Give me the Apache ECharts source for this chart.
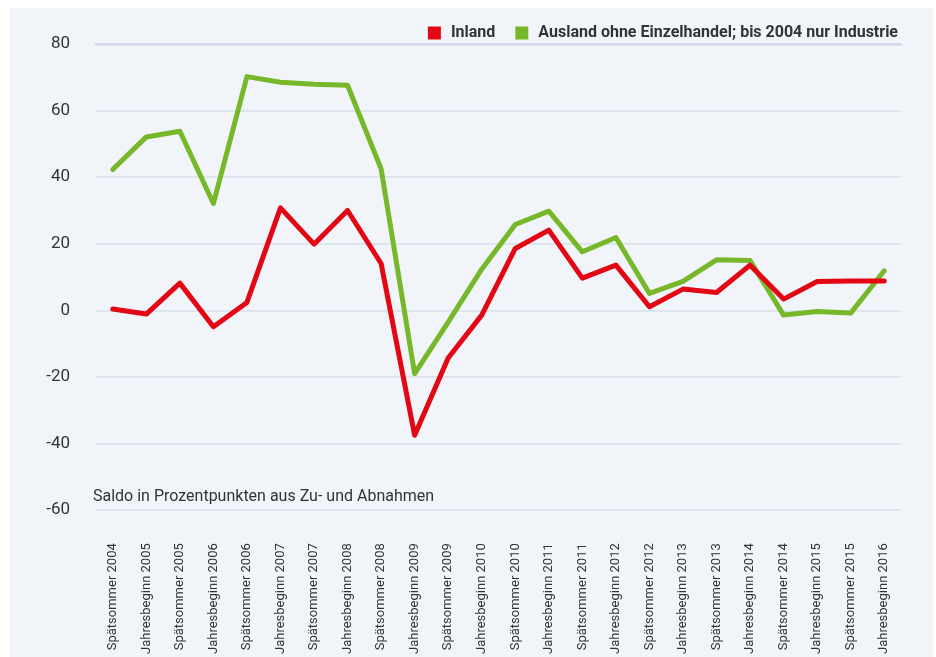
<!DOCTYPE html>
<html>
<head>
<meta charset="utf-8">
<script src="https://cdn.jsdelivr.net/npm/echarts@6/dist/echarts.min.js"></script>
<style>
html,body{margin:0;padding:0;background:#fff;}
#panel{position:absolute;left:10px;top:8px;width:923px;height:649px;background:#f1f5fa;}
#chart{position:absolute;left:0;top:0;width:936px;height:657px;}
</style>
</head>
<body>
<div id="panel"></div>
<div id="chart"></div>
<script>
const categories = [
  'Spätsommer 2004','Jahresbeginn 2005','Spätsommer 2005','Jahresbeginn 2006',
  'Spätsommer 2006','Jahresbeginn 2007','Spätsommer 2007','Jahresbeginn 2008',
  'Spätsommer 2008','Jahresbeginn 2009','Spätsommer 2009','Jahresbeginn 2010',
  'Spätsommer 2010','Jahresbeginn 2011','Spätsommer 2011','Jahresbeginn 2012',
  'Spätsommer 2012','Jahresbeginn 2013','Spätsommer 2013','Jahresbeginn 2014',
  'Spätsommer 2014','Jahresbeginn 2015','Spätsommer 2015','Jahresbeginn 2016'
];
const inland = [0.4,-1.1,8.2,-4.9,2.4,30.8,19.9,30.0,14.1,-37.5,-14.3,-1.4,
                18.6,24.1,9.7,13.6,1.1,6.4,5.4,13.6,3.4,8.7,8.8,8.8];
const ausland = [42.3,52.1,53.8,32.1,70.2,68.5,67.9,67.6,42.5,-19.0,-3.5,12.4,
                 25.8,29.8,17.6,21.9,5.1,8.7,15.2,15.0,-1.4,-0.3,-0.8,11.9];
const yTicks = {min:-60, max:80, interval:20};
const unitNote = 'Saldo in Prozentpunkten aus Zu- und Abnahmen';
const seriesNames = ['Inland','Ausland ohne Einzelhandel; bis 2004 nur Industrie'];

const FONT = 'Roboto';
const chart = echarts.init(document.getElementById('chart'), null, {renderer:'canvas'});
const gridLine = '#d6e0eb';
chart.setOption({
  backgroundColor:'transparent',
  animation:false,
  textStyle:{fontFamily:FONT},
  grid:{left:96, right:35, top:44, bottom:145, containLabel:false},
  legend:{
    right:33, top:20, itemWidth:13, itemHeight:13, itemGap:20,
    icon:'rect',
    textStyle:{fontFamily:FONT, fontSize:16, fontWeight:'bold', color:'#333', padding:[0,0,0,5]},
    data:seriesNames
  },
  graphic:[{
    type:'text', left:93, top:489,
    style:{text:unitNote, font:'16px '+FONT, fill:'#333'}
  }],
  xAxis:[
    {type:'category', data:categories, boundaryGap:true, position:'bottom',
     axisLine:{show:false}, axisTick:{show:false},
     axisLabel:{rotate:90, margin:33, fontSize:13, color:'#333', fontFamily:FONT, interval:0}},
    {type:'category', data:categories, boundaryGap:true,
     axisLine:{onZero:true, lineStyle:{color:'#cfdae7', width:2.5}},
     axisTick:{alignWithLabel:true, inside:false, length:6, lineStyle:{color:'#cfdae7', width:1.5}},
     axisLabel:{show:false}},
    {type:'category', data:categories, boundaryGap:true,
     axisLine:{show:false, onZero:true},
     axisTick:{alignWithLabel:true, inside:true, length:6, lineStyle:{color:'#cfdae7', width:1.5}},
     axisLabel:{show:false}}
  ],
  yAxis:{
    type:'value', min:yTicks.min, max:yTicks.max, interval:yTicks.interval,
    axisLine:{show:false}, axisTick:{show:false},
    axisLabel:{margin:26, fontSize:17, color:'#333', fontFamily:FONT},
    splitLine:{lineStyle:{color:gridLine, width:1.5}}
  },
  series:[
    {name:seriesNames[0], type:'line', data:inland, xAxisIndex:0, symbol:'none',
     lineStyle:{width:5, color:'#e30613', join:'round', cap:'round'}, itemStyle:{color:'#e30613'}, z:4},
    {name:seriesNames[1], type:'line', data:ausland, xAxisIndex:0, symbol:'none',
     lineStyle:{width:5, color:'#77b82b', join:'round', cap:'round'}, itemStyle:{color:'#77b82b'}, z:3}
  ]
});
</script>
</body>
</html>
